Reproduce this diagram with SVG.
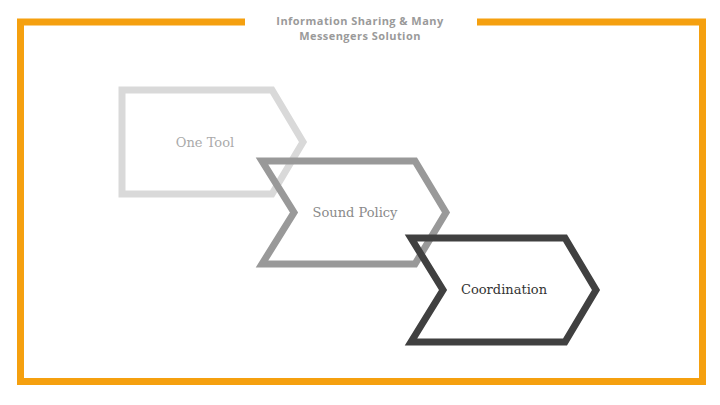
<svg xmlns="http://www.w3.org/2000/svg" width="720" height="405" viewBox="0 0 720 405">
<style>
.frame{fill:none;stroke:#f5a00f;stroke-width:7;stroke-linejoin:miter}
.chev{fill:none;stroke-width:7;stroke-linejoin:miter}
.title{font-family:"Open Sans","Liberation Sans",sans-serif;font-weight:bold;font-size:11px;letter-spacing:0.45px;fill:#9a9a9a;text-anchor:middle}
.lbl{font-family:"DejaVu Serif","Liberation Serif",serif;font-size:13px;text-anchor:middle}
</style>
<rect width="720" height="405" fill="#ffffff"/>
<path class="frame" d="M245,22 H20.5 V381.5 H702.5 V22 H477"/>
<text class="title" x="360" y="25">Information Sharing &amp; Many</text>
<text class="title" x="360" y="40">Messengers Solution</text>
<g id="connectors"></g>
<g id="node-one-tool">
<path class="chev" stroke="#d9d9d9" d="M122,90 H272 L303,142 L272,194 H122 Z"/>
<text class="lbl" x="205" y="147" fill="#aaaaaa">One Tool</text>
</g>
<g id="node-sound-policy">
<path class="chev" stroke="#999999" d="M262,161 H415 L446,212.5 L415,264 H262 L294,212.5 Z"/>
<text class="lbl" x="355" y="217" fill="#8a8a8a">Sound Policy</text>
</g>
<g id="node-coordination">
<path class="chev" stroke="#404040" d="M411,238 H565 L596,290 L565,342 H411 L443,290 Z"/>
<text class="lbl" x="504" y="294" fill="#333333">Coordination</text>
</g>
</svg>
